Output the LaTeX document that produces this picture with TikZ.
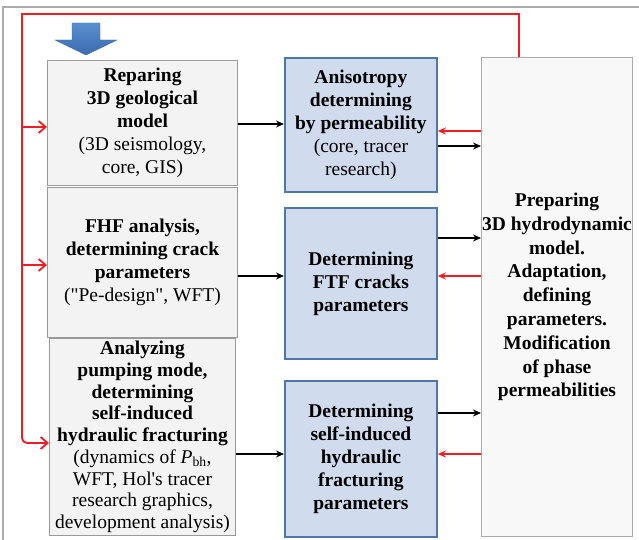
\documentclass[tikz,border=0pt]{standalone}
\usepackage{fontspec}
\setmainfont{Liberation Serif}
\usetikzlibrary{arrows.meta}
\definecolor{framegray}{HTML}{ABABAB}
\definecolor{boxgray}{HTML}{F3F3F3}
\definecolor{linegray}{HTML}{9A9A9A}
\definecolor{midfill}{HTML}{D0DBEE}
\definecolor{midline}{HTML}{4F76A8}
\definecolor{fbred}{HTML}{F21C24}
\definecolor{blueA}{HTML}{5A8FD0}
\definecolor{blueB}{HTML}{3A6BAE}
\begin{document}
\begin{tikzpicture}[x=1pt,y=-1pt,
    txt/.style={align=center,inner sep=0pt,anchor=north west,font=\fontsize{19.5}{23}\selectfont\bfseries},
    leftbox/.style={txt,draw=linegray,fill=boxgray,line width=1pt},
    midbox/.style={txt,draw=midline,fill=midfill,line width=1.8pt},
    rightbox/.style={txt,draw=framegray,fill=boxgray!60,line width=1pt},
    blk/.style={line width=1.6pt,-{Stealth[length=8pt,width=7pt]}},
    redin/.style={fbred,line width=1.6pt,-{Stealth[length=8pt,width=7pt]}},
    fb/.style={fbred,line width=1.8pt,-{Straight Barb[length=7pt,width=12pt]}}]
  \useasboundingbox (0,0) rectangle (639,540);
  \draw[framegray,line width=2pt] (3,540) -- (3,7) -- (639,7);
  \shade[top color=blueA,bottom color=blueB,draw=blueB] (72,23) -- (100,23) -- (100,40) -- (117,40) -- (86,55) -- (55,40) -- (72,40) -- cycle;
  % left column
  \node[leftbox,minimum width=190pt,minimum height=125pt] (geo) at (47,60)
    {Reparing\\3D geological\\model\\\textnormal{(3D seismology,}\\\textnormal{core, GIS)}};
  \node[leftbox,minimum width=190pt,minimum height=150pt] (fhf) at (47,187)
    {FHF analysis,\\determining crack\\parameters\\\textnormal{(\textquotedbl Pe-design\textquotedbl, WFT)}};
  \node[leftbox,minimum width=186pt,minimum height=197pt,font=\fontsize{19.5}{21.7}\selectfont\bfseries] (pump) at (49,338)
    {Analyzing\\pumping mode,\\determining\\self-induced\\hydraulic fracturing\\\textnormal{(dynamics of \textit{P}\textsubscript{bh},}\\\textnormal{WFT, Hol\textquotesingle s tracer}\\\textnormal{research graphics,}\\\textnormal{development analysis)}};
  % middle column
  \node[midbox,minimum width=152pt,minimum height=134pt] (aniso) at (284,57)
    {Anisotropy\\determining\\by permeability\\\textnormal{(core, tracer}\\\textnormal{research)}};
  \node[midbox,minimum width=152pt,minimum height=151pt] (ftf) at (284,207)
    {Determining\\FTF cracks\\parameters};
  \node[midbox,minimum width=152pt,minimum height=156pt] (self) at (284,380)
    {Determining\\self-induced\\hydraulic\\fracturing\\parameters};
  % right column
  \node[rightbox,minimum width=151pt,minimum height=479pt,font=\fontsize{19.5}{23.8}\selectfont\bfseries] (prep) at (481,57)
    {Preparing\\3D hydrodynamic\\model.\\Adaptation,\\defining\\parameters.\\Modification\\of phase\\permeabilities};
  % connectors
  \draw[blk] (geo.east |- 0,124) -- (aniso.west |- 0,124);
  \draw[blk] (fhf.east |- 0,276) -- (ftf.west |- 0,276);
  \draw[blk] (pump.east |- 0,454) -- (self.west |- 0,454);
  \draw[blk] (aniso.east |- 0,146) -- (prep.west |- 0,146);
  \draw[blk] (ftf.east |- 0,238) -- (prep.west |- 0,238);
  \draw[blk] (self.east |- 0,413) -- (prep.west |- 0,413);
  \draw[redin] (prep.west |- 0,131) -- (aniso.east |- 0,131);
  \draw[redin] (prep.west |- 0,276) -- (ftf.east |- 0,276);
  \draw[redin] (prep.west |- 0,454) -- (self.east |- 0,454);
  % feedback loop
  \coordinate (fbtop) at (519,14);
  \coordinate (fbl) at (22,14);
  \draw[fb] (fbtop |- prep.north) -- (fbtop) -- (fbl) {[rounded corners=5pt] -- (fbl |- 0,443) -- (pump.west |- 0,443)};
  \draw[fb] (fbl |- 0,127) -- (geo.west |- 0,127);
  \draw[fb] (fbl |- 0,265) -- (fhf.west |- 0,265);
\end{tikzpicture}
\end{document}
